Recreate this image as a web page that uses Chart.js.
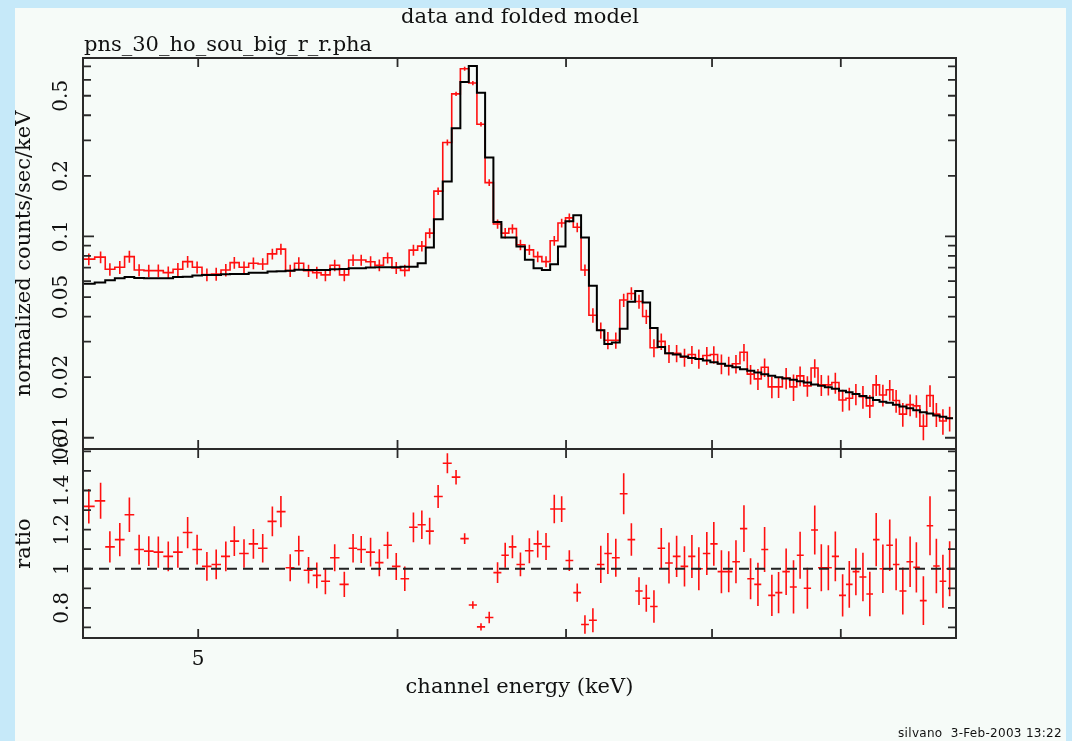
<!DOCTYPE html>
<html>
<head>
  <meta charset="utf-8">
  <title>data and folded model</title>
  <script src="https://cdn.jsdelivr.net/npm/chart.js"></script>
  <style>
    html, body {
      margin: 0;
      padding: 0;
    }
    body {
      width: 1072px;
      height: 741px;
      background-color: #c6e9f9;
      position: relative;
      overflow: hidden;
      font-family: 'DejaVu Serif', serif;
      color: #111;
    }
    .sheet {
      position: absolute;
      left: 15px;
      top: 8px;
      width: 1051px;
      height: 733px;
      background-color: #f6fbf8;
    }
    canvas {
      position: absolute;
      left: 0;
      top: 0;
    }
    .txt {
      position: absolute;
      white-space: nowrap;
      font-size: 21px;
      line-height: 22px;
    }
    #plotTitle {
      left: 520px;
      top: 5px;
      transform: translateX(-50%);
    }
    #fileName {
      left: 84px;
      top: 33px;
    }
    #stamp {
      right: 10px;
      top: 727px;
      font-family: 'DejaVu Sans', sans-serif;
      font-size: 12px;
      line-height: 13px;
      letter-spacing: 0.3px;
    }
  </style>
</head>
<body>
  <div class="sheet"></div>
  <canvas id="topPanel" width="1072" height="741"></canvas>
  <canvas id="ratioPanel" width="1072" height="741"></canvas>
  <div id="plotTitle" class="txt">data and folded model</div>
  <div id="fileName" class="txt">pns_30_ho_sou_big_r_r.pha</div>
  <div id="stamp" class="txt">silvano &nbsp;3-Feb-2003 13:22</div>

  <script>
    // bin centres (keV)
    const energyKeV = [
      4.524, 4.573, 4.612, 4.654, 4.695, 4.737, 4.779, 4.821, 4.865, 4.908,
      4.952, 4.995, 5.040, 5.083, 5.128, 5.168, 5.214, 5.259, 5.304, 5.351,
      5.393, 5.439, 5.482, 5.531, 5.573, 5.617, 5.665, 5.715, 5.761, 5.804,
      5.854, 5.901, 5.946, 5.993, 6.040, 6.088, 6.135, 6.179, 6.227, 6.280,
      6.330, 6.380, 6.428, 6.476, 6.525, 6.575, 6.621, 6.665, 6.714, 6.769,
      6.821, 6.873, 6.925, 6.972, 7.021, 7.072, 7.122, 7.174, 7.226, 7.273,
      7.326, 7.379, 7.431, 7.483, 7.533, 7.586, 7.637, 7.691, 7.745, 7.801,
      7.854, 7.904, 7.962, 8.013, 8.069, 8.123, 8.177, 8.237, 8.287, 8.343,
      8.394, 8.450, 8.502, 8.561, 8.619, 8.671, 8.729, 8.788, 8.841, 8.898,
      8.955, 9.015, 9.070, 9.125, 9.184, 9.242, 9.296, 9.353, 9.412, 9.467,
      9.525, 9.589, 9.644, 9.706, 9.765, 9.822, 9.881, 9.942
    ];

    // normalized counts/sec/keV, data
    const countsData = [
      0.0771, 0.0789, 0.0687, 0.0703, 0.0794, 0.0681, 0.0676, 0.0676, 0.0661, 0.0687,
      0.0750, 0.0703, 0.0646, 0.0651, 0.0681, 0.0741, 0.0703, 0.0736, 0.0730, 0.0819,
      0.0865, 0.0676, 0.0736, 0.0676, 0.0661, 0.0644, 0.0719, 0.0644, 0.0764, 0.0764,
      0.0748, 0.0719, 0.0783, 0.0698, 0.0678, 0.0855, 0.0895, 0.1039, 0.168, 0.293,
      0.511, 0.681, 0.578, 0.361, 0.185, 0.1153, 0.1039, 0.1093, 0.0909, 0.0858,
      0.0794, 0.0750, 0.0952, 0.1166, 0.1236, 0.1110, 0.0681, 0.0406, 0.0342, 0.0305,
      0.0305, 0.0483, 0.0521, 0.0475, 0.0400, 0.0280, 0.0301, 0.0262, 0.0263, 0.0251,
      0.0259, 0.0247, 0.0256, 0.0259, 0.0233, 0.0228, 0.0233, 0.0266, 0.0207, 0.0196,
      0.0224, 0.0179, 0.0179, 0.0198, 0.0179, 0.0203, 0.0181, 0.0222, 0.0183, 0.0183,
      0.0188, 0.0154, 0.0157, 0.0165, 0.0160, 0.0144, 0.0183, 0.0163, 0.0173, 0.0153,
      0.0131, 0.0146, 0.0144, 0.0114, 0.0162, 0.0131, 0.0121, 0.0125
    ];

    // folded model
    const countsModel = [
      0.0582, 0.0591, 0.0605, 0.0619, 0.0629, 0.0621, 0.0619, 0.0619, 0.0619, 0.0629,
      0.0631, 0.0639, 0.0643, 0.0643, 0.0648, 0.0651, 0.0651, 0.0661, 0.0661, 0.0669,
      0.0671, 0.0676, 0.0684, 0.0682, 0.0682, 0.0682, 0.0687, 0.0690, 0.0695, 0.0695,
      0.0700, 0.0703, 0.0703, 0.0703, 0.0708, 0.0708, 0.0736, 0.0881, 0.1217, 0.1876,
      0.3448, 0.5857, 0.7030, 0.5167, 0.2465, 0.1180, 0.0989, 0.0989, 0.0891, 0.0765,
      0.0695, 0.0681, 0.0728, 0.0891, 0.1189, 0.1274, 0.0989, 0.0569, 0.0342, 0.0292,
      0.0297, 0.0348, 0.0474, 0.0535, 0.0470, 0.0351, 0.0282, 0.0263, 0.0259, 0.0253,
      0.0249, 0.0246, 0.0242, 0.0237, 0.0233, 0.0228, 0.0224, 0.0219, 0.0215, 0.0211,
      0.0207, 0.0203, 0.0200, 0.0197, 0.0194, 0.0191, 0.0188, 0.0184, 0.0181, 0.0178,
      0.0175, 0.0171, 0.0168, 0.0165, 0.0161, 0.0158, 0.0154, 0.0151, 0.0149, 0.0146,
      0.0143, 0.0140, 0.0137, 0.0134, 0.0132, 0.0129, 0.0127, 0.0125
    ];

    // data / model
    const ratioData = [
      1.319, 1.347, 1.112, 1.149, 1.276, 1.098, 1.090, 1.085, 1.063, 1.085,
      1.185, 1.098, 1.012, 1.022, 1.063, 1.141, 1.078, 1.127, 1.105, 1.242,
      1.292, 1.005, 1.092, 0.992, 0.966, 0.936, 1.056, 0.920, 1.105, 1.098,
      1.085, 1.031, 1.120, 1.012, 0.949, 1.212, 1.225, 1.192, 1.369, 1.539,
      1.468, 1.154, 0.815, 0.703, 0.751, 0.980, 1.069, 1.112, 1.022, 1.092,
      1.127, 1.114, 1.305, 1.305, 1.042, 0.878, 0.715, 0.737, 1.022, 1.078,
      1.056, 1.383, 1.149, 0.886, 0.849, 0.807, 1.105, 1.029, 1.063, 1.012,
      1.063, 1.000, 1.078, 1.127, 0.985, 0.985, 1.036, 1.205, 0.949, 0.920,
      1.098, 0.864, 0.878, 0.985, 0.907, 1.069, 0.900, 1.198, 1.005, 1.005,
      1.063, 0.864, 0.920, 0.985, 0.958, 0.871, 1.149, 1.000, 1.120, 1.022,
      0.886, 1.036, 1.007, 0.837, 1.220, 1.014, 0.936, 1.000
    ];

    // 1 sigma error on the ratio
    const ratioErr = [
      0.088, 0.092, 0.080, 0.085, 0.088, 0.076, 0.076, 0.080, 0.076, 0.080,
      0.080, 0.076, 0.073, 0.076, 0.076, 0.076, 0.073, 0.076, 0.073, 0.076,
      0.080, 0.069, 0.076, 0.068, 0.066, 0.066, 0.069, 0.064, 0.073, 0.069,
      0.073, 0.069, 0.069, 0.069, 0.063, 0.076, 0.073, 0.068, 0.059, 0.051,
      0.037, 0.027, 0.019, 0.019, 0.029, 0.053, 0.064, 0.059, 0.061, 0.064,
      0.069, 0.069, 0.073, 0.066, 0.053, 0.047, 0.047, 0.061, 0.095, 0.105,
      0.097, 0.105, 0.083, 0.071, 0.069, 0.083, 0.103, 0.105, 0.105, 0.103,
      0.110, 0.110, 0.110, 0.112, 0.110, 0.105, 0.110, 0.119, 0.105, 0.110,
      0.115, 0.105, 0.105, 0.119, 0.136, 0.120, 0.105, 0.125, 0.120, 0.115,
      0.127, 0.108, 0.119, 0.120, 0.124, 0.114, 0.136, 0.124, 0.132, 0.132,
      0.120, 0.129, 0.129, 0.124, 0.151, 0.139, 0.136, 0.141
    ];

    const energyTicks = [5, 6, 7, 8, 9];
    const energyLabels = ['5', '', '', '', ''];
    const countTicks = [0.01, 0.02, 0.03, 0.04, 0.05, 0.06, 0.07, 0.08, 0.09, 0.1, 0.2, 0.3, 0.4, 0.5, 0.6, 0.7];
    const countLabels = ['0.01', '0.02', '', '', '0.05', '', '', '', '', '0.1', '0.2', '', '', '0.5', '', ''];
    const ratioTicks = [0.7, 0.8, 0.9, 1.0, 1.1, 1.2, 1.3, 1.4, 1.5, 1.6];
    const ratioLabels = ['', '0.8', '', '1', '', '1.2', '', '1.4', '', '1.6'];

    const RED = '#ff1010';
    const INK = '#111111';
    const titleFont = { size: 21 };
    Chart.defaults.font.family = "'DejaVu Serif', serif";
    Chart.defaults.font.size = 20;
    Chart.defaults.color = INK;

    // bin edges halfway (in log) between neighbouring centres
    const n = energyKeV.length;
    const mids = [];
    for (let i = 0; i < n - 1; i++) mids.push(Math.sqrt(energyKeV[i] * energyKeV[i + 1]));
    const binLo = [energyKeV[0] * energyKeV[0] / mids[0]].concat(mids);
    const binHi = mids.concat([energyKeV[n - 1] * energyKeV[n - 1] / mids[n - 2]]);

    function histogram(vals) {
      const pts = [];
      vals.forEach((v, i) => {
        pts.push({ x: binLo[i], y: v }, { x: binHi[i], y: v });
      });
      return pts;
    }

    function horizontalBars(vals) {
      const pts = [];
      vals.forEach((v, i) => {
        pts.push({ x: binLo[i], y: v }, { x: binHi[i], y: v }, { x: binHi[i], y: null });
      });
      return pts;
    }

    function verticalBars(vals, errs) {
      const pts = [];
      vals.forEach((v, i) => {
        const e = energyKeV[i];
        pts.push({ x: e, y: v - errs[i] }, { x: e, y: v + errs[i] }, { x: e, y: null });
      });
      return pts;
    }

    const countsErr = countsData.map((v, i) => v * ratioErr[i] / ratioData[i]);

    // box round the plot area with PGPLOT style inward ticks
    const frameTicks = {
      id: 'frameTicks',
      afterDatasetsDraw(chart, args, opts) {
        const { ctx, chartArea: a } = chart;
        const xs = chart.scales.x;
        const ys = chart.scales.y;
        ctx.save();
        ctx.strokeStyle = '#2a2a2a';
        ctx.lineWidth = 1.8;
        ctx.beginPath();
        energyTicks.forEach(v => {
          const px = xs.getPixelForValue(v);
          ctx.moveTo(px, a.top);
          ctx.lineTo(px, a.top + 9);
          ctx.moveTo(px, a.bottom);
          ctx.lineTo(px, a.bottom - 9);
        });
        opts.ticks.forEach(v => {
          const py = ys.getPixelForValue(v);
          const len = opts.major.includes(v) ? 11 : 8;
          ctx.moveTo(a.left, py);
          ctx.lineTo(a.left + len, py);
          ctx.moveTo(a.right, py);
          ctx.lineTo(a.right - len, py);
        });
        ctx.stroke();
        ctx.lineWidth = 2;
        ctx.strokeRect(a.left, a.top, a.right - a.left, a.bottom - a.top);
        ctx.restore();
      }
    };

    new Chart(document.getElementById('topPanel'), {
      type: 'line',
      data: {
        datasets: [
          { label: 'model', data: histogram(countsModel), borderColor: '#000', borderWidth: 2 },
          { label: 'data', data: histogram(countsData), borderColor: RED, borderWidth: 1.6 },
          { label: 'data errors', data: verticalBars(countsData, countsErr), borderColor: RED, borderWidth: 1.6 }
        ]
      },
      options: {
        responsive: false,
        animation: false,
        events: [],
        elements: { point: { radius: 0 }, line: { tension: 0 } },
        layout: { padding: { left: 0, top: 58, right: 116, bottom: 292 } },
        plugins: {
          legend: { display: false },
          tooltip: { enabled: false },
          frameTicks: { ticks: countTicks, major: [0.01, 0.1] }
        },
        scales: {
          x: {
            type: 'logarithmic', min: 4.5, max: 10, bounds: 'data', display: false,
            afterBuildTicks: s => { s.ticks = energyTicks.map(v => ({ value: v })); }
          },
          y: {
            type: 'logarithmic', min: 0.00879, max: 0.77, bounds: 'data', position: 'left',
            afterBuildTicks: s => { s.ticks = countTicks.map(v => ({ value: v })); },
            afterFit: s => { s.width = 83; },
            grid: { display: false, drawTicks: false, tickLength: 0 },
            border: { display: false },
            ticks: {
              autoSkip: false, minRotation: 90, maxRotation: 90, crossAlign: 'center', padding: -1,
              callback: (v, i) => countLabels[i]
            },
            title: { display: true, text: 'normalized counts/sec/keV', font: titleFont, padding: { top: 12, bottom: 0 } }
          }
        }
      },
      plugins: [frameTicks]
    });

    new Chart(document.getElementById('ratioPanel'), {
      type: 'line',
      data: {
        datasets: [
          { label: 'unity', data: [{ x: 4.5, y: 1 }, { x: 10, y: 1 }], borderColor: '#222', borderWidth: 1.8, borderDash: [10, 6] },
          { label: 'ratio', data: horizontalBars(ratioData), borderColor: RED, borderWidth: 1.6 },
          { label: 'ratio errors', data: verticalBars(ratioData, ratioErr), borderColor: RED, borderWidth: 1.6 }
        ]
      },
      options: {
        responsive: false,
        animation: false,
        events: [],
        elements: { point: { radius: 0 }, line: { tension: 0 } },
        layout: { padding: { left: 0, top: 449, right: 116, bottom: 0 } },
        plugins: {
          legend: { display: false },
          tooltip: { enabled: false },
          frameTicks: { ticks: ratioTicks, major: [] }
        },
        scales: {
          x: {
            type: 'logarithmic', min: 4.5, max: 10, bounds: 'data',
            afterBuildTicks: s => { s.ticks = energyTicks.map(v => ({ value: v })); },
            afterFit: s => { s.height = 103; },
            grid: { display: false, drawTicks: false, tickLength: 0 },
            border: { display: false },
            ticks: { autoSkip: false, maxRotation: 0, padding: 10, callback: (v, i) => energyLabels[i] },
            title: { display: true, text: 'channel energy (keV)', font: titleFont, padding: { top: 0, bottom: 41 } }
          },
          y: {
            type: 'linear', min: 0.646, max: 1.612, bounds: 'data', position: 'left',
            afterBuildTicks: s => { s.ticks = ratioTicks.map(v => ({ value: v })); },
            afterFit: s => { s.width = 83; },
            grid: { display: false, drawTicks: false, tickLength: 0 },
            border: { display: false },
            ticks: {
              autoSkip: false, minRotation: 90, maxRotation: 90, crossAlign: 'center', padding: 4,
              callback: (v, i) => ratioLabels[i]
            },
            title: { display: true, text: 'ratio', font: titleFont, padding: { top: 12, bottom: 0 } }
          }
        }
      },
      plugins: [frameTicks]
    });
  </script>
</body>
</html>
